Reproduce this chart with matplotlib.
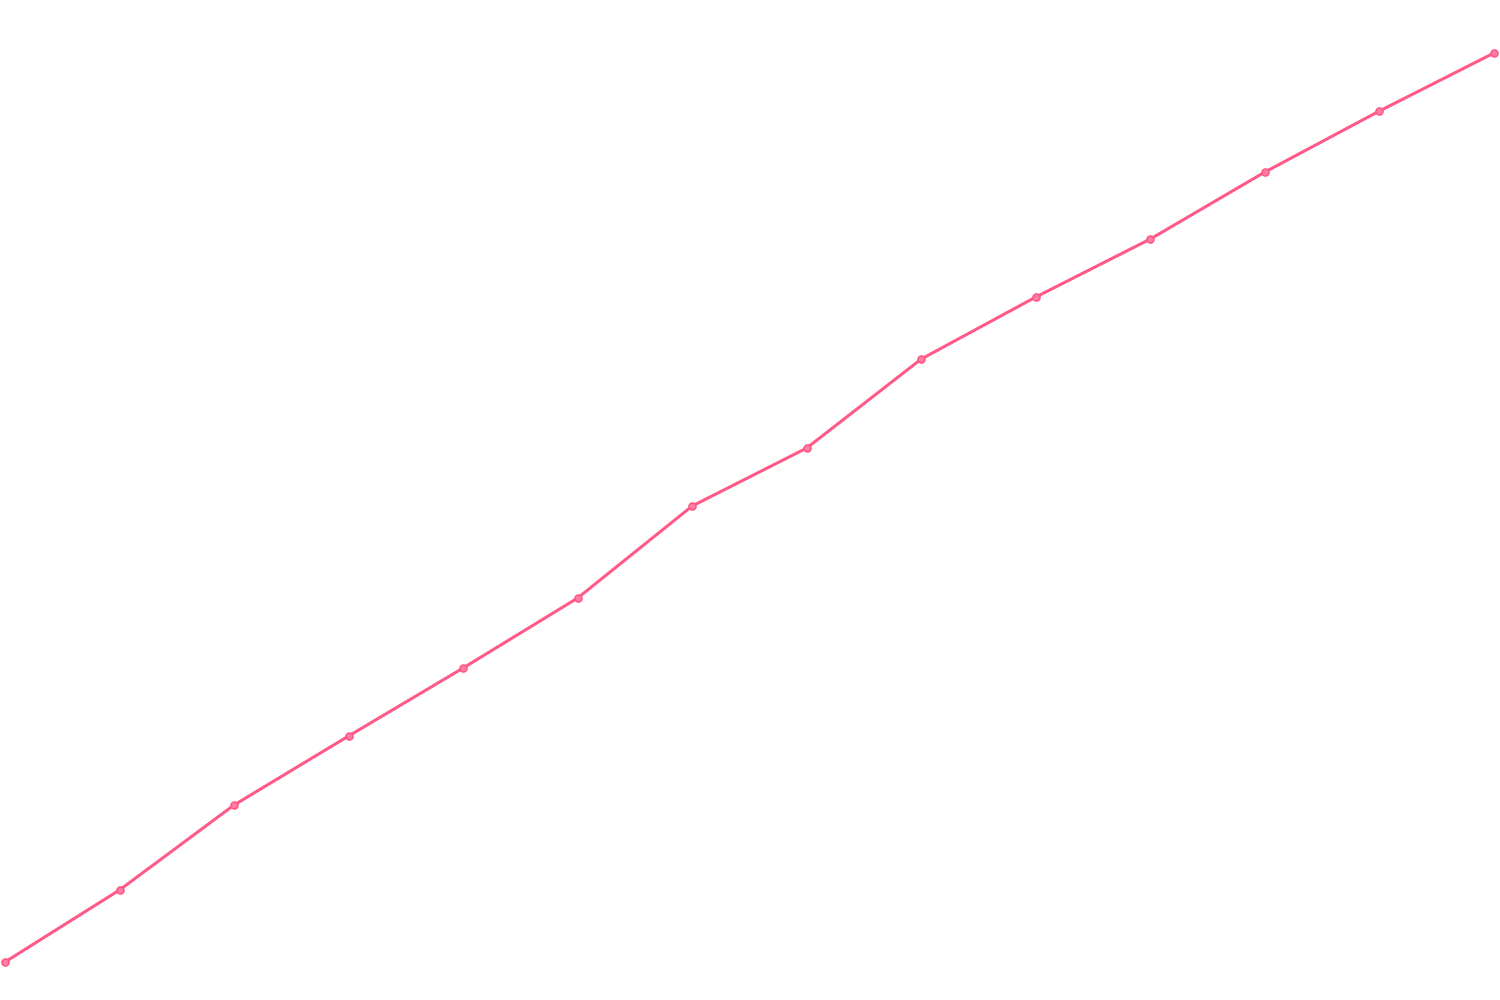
import numpy as np
import matplotlib
matplotlib.use("Agg")
import matplotlib.pyplot as plt

# values (arbitrary units, 0..1000 scale)
steps = list(range(14))
values = [38, 110, 195, 264, 332, 402, 494, 552, 641, 703, 761, 828, 889, 947]

line_color = "#ff5a87"

fig = plt.figure(figsize=(15, 10), dpi=100)
ax = fig.add_axes([0, 0, 1, 1])
ax.plot(steps, values, color=line_color, lw=2.2, marker="o", ms=5,
        mfc="#ff7fa2", mec=line_color, mew=1.2, solid_capstyle="round")

# place point 0 at x=5px and point 13 at x=1494px
ppu = (1494 - 5) / 13
ax.set_xlim(-5 / ppu, 13 + 6 / ppu)
ax.set_ylim(0, 1000)
ax.axis("off")

fig.savefig("out.png", dpi=100, facecolor="white")
